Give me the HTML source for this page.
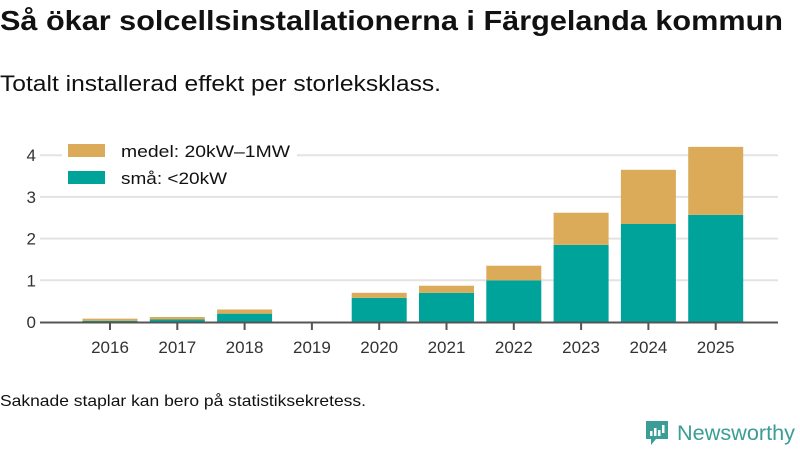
<!DOCTYPE html>
<html><head><meta charset="utf-8"><style>
body{margin:0;width:800px;height:450px;background:#fff;font-family:"Liberation Sans",sans-serif;overflow:hidden}
svg text{font-family:"Liberation Sans",sans-serif}
</style></head><body>
<svg id="c" width="800" height="450">
<text x="0" y="30" font-size="28" font-weight="bold" fill="#111" textLength="783" lengthAdjust="spacingAndGlyphs">Så ökar solcellsinstallationerna i Färgelanda kommun</text>
<text x="0" y="91" font-size="22" fill="#111" textLength="441" lengthAdjust="spacingAndGlyphs">Totalt installerad effekt per storleksklass.</text>
<g id="grid"></g><g id="bars"></g><g id="axis"></g>
<g>
<rect x="62" y="138" width="235" height="56" fill="#fff"/>
<rect x="68" y="144" width="37" height="13" fill="#dbab5a"/>
<text x="121" y="157" font-size="17" fill="#111" textLength="169" lengthAdjust="spacingAndGlyphs">medel: 20kW–1MW</text>
<rect x="68" y="171" width="37" height="13" fill="#00a39a"/>
<text x="121" y="184" font-size="17" fill="#111" textLength="106" lengthAdjust="spacingAndGlyphs">små: &lt;20kW</text>
</g>
<text x="0" y="406" font-size="16" fill="#111" textLength="366" lengthAdjust="spacingAndGlyphs">Saknade staplar kan bero på statistiksekretess.</text>
<g>
<path d="M646 421h22v18h-12l-5 6v-6h-5z" fill="#3a9e96"/>
<rect x="650" y="431" width="2.5" height="5" fill="#fff"/><rect x="654" y="428" width="2.5" height="8" fill="#fff"/><rect x="658" y="430" width="2.5" height="6" fill="#fff"/><rect x="662" y="425" width="2.5" height="8" fill="#fff"/>
<text x="677" y="440" font-size="21" fill="#3a9e96" textLength="118" lengthAdjust="spacingAndGlyphs">Newsworthy</text>
</g>
</svg>
<script>
const years=["2016","2017","2018","2019","2020","2021","2022","2023","2024","2025"];
const small=[0.03,0.06,0.2,null,0.58,0.7,1.0,1.85,2.35,2.57];
const medium=[0.05,0.06,0.1,null,0.12,0.17,0.35,0.77,1.3,1.63];
const yTicks=[0,1,2,3,4];
const NS="http://www.w3.org/2000/svg";
const y=v=>322-v*41.7;
const x=i=>110+i*67.3;
function mk(p,t,a){const e=document.createElementNS(NS,t);for(const k in a)e.setAttribute(k,a[k]);document.getElementById(p).appendChild(e);return e;}
yTicks.forEach(t=>{
 if(t>0){const l=mk('grid','line',{x1:40,x2:778,y1:y(t),y2:y(t),stroke:'#e3e3e3','stroke-width':2});
 
 }
 const tx=mk('grid','text',{x:36,y:y(t)+6,'font-size':17,fill:'#333','text-anchor':'end'});tx.textContent=t;
 
 
});
years.forEach((yr,i)=>{
 if(small[i]!=null){
  const a=mk('bars','rect',{x:x(i)-27.5,width:55,y:y(small[i]),height:small[i]*41.7,fill:'#00a39a'});
  
  
  const b=mk('bars','rect',{x:x(i)-27.5,width:55,y:y(small[i]+medium[i]),height:medium[i]*41.7,fill:'#dbab5a'});
  
  
 }
 const tk=mk('axis','line',{x1:x(i),x2:x(i),y1:322,y2:330,stroke:'#555','stroke-width':2});
 
 
 const tl=mk('axis','text',{x:x(i),y:353,'font-size':17,fill:'#333','text-anchor':'middle'});tl.textContent=yr;
 
 
});
const ax=mk('axis','line',{x1:40,x2:778,y1:322.5,y2:322.5,stroke:'#555','stroke-width':2});


</script>
</body></html>
